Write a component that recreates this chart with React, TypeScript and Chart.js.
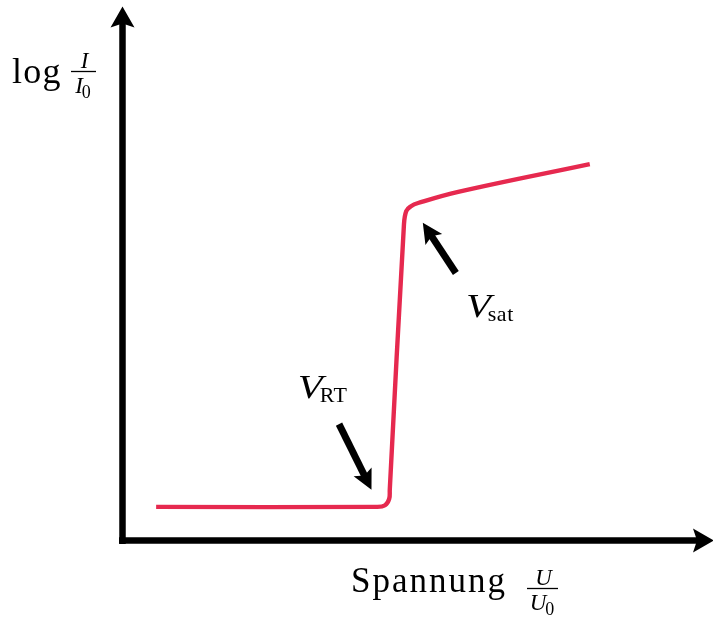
import React, { useEffect, useRef } from "react";
import { Chart, registerables } from "chart.js";

Chart.register(...registerables);

// Characteristic: voltage U/U0 against log current log(I/I0)
const voltage = [0.57, 4.31, 4.45, 4.52, 4.53, 4.77, 4.81, 4.89, 5.01, 5.69, 7.92];
const logCurrent = [0.63, 0.63, 0.66, 0.78, 0.95, 5.91, 6.17, 6.26, 6.32, 6.53, 7.05];

// Axis extents
const xMax = 10;
const yMax = 10;

// Annotated points: arrow tail -> tip and label anchor, in data units
const markerMain = ["V", "V"];
const markerSub = ["RT", "sat"];
const arrowTailX = [3.67, 5.65];
const arrowTailY = [2.18, 5.01];
const arrowTipX = [4.22, 5.09];
const arrowTipY = [0.95, 5.95];
const labelX = [2.97, 5.82];
const labelY = [2.67, 4.19];

const SERIF = '"Liberation Serif", "DejaVu Serif", serif';
const LINE_RED = "#e6294f";

function drawArrow(
  ctx: CanvasRenderingContext2D,
  x0: number,
  y0: number,
  x1: number,
  y1: number,
  width: number,
  headLen: number,
  headHalf: number,
  notch: number
) {
  const dx = x1 - x0;
  const dy = y1 - y0;
  const L = Math.hypot(dx, dy);
  const ux = dx / L;
  const uy = dy / L;
  const nx = -uy;
  const ny = ux;
  const bx = x1 - ux * headLen;
  const by = y1 - uy * headLen;
  const mx = bx + ux * notch;
  const my = by + uy * notch;
  ctx.lineWidth = width;
  ctx.lineCap = "butt";
  ctx.beginPath();
  ctx.moveTo(x0, y0);
  ctx.lineTo(mx + ux * 1, my + uy * 1);
  ctx.stroke();
  ctx.beginPath();
  ctx.moveTo(x1, y1);
  ctx.lineTo(bx + nx * headHalf, by + ny * headHalf);
  ctx.lineTo(mx, my);
  ctx.lineTo(bx - nx * headHalf, by - ny * headHalf);
  ctx.closePath();
  ctx.fill();
}

function setFont(ctx: CanvasRenderingContext2D, size: number, italic = false, spacing = 0) {
  ctx.font = `${italic ? "italic " : ""}${size}px ${SERIF}`;
  (ctx as any).letterSpacing = `${spacing}px`;
}

// Italic capital drawn slightly widened, returns its advance
function drawWideItalic(ctx: CanvasRenderingContext2D, text: string, x: number, y: number, size: number, stretch: number) {
  setFont(ctx, size, true);
  ctx.save();
  ctx.translate(x, y);
  ctx.scale(stretch, 1);
  ctx.fillText(text, 0, 0);
  ctx.restore();
  return ctx.measureText(text).width * stretch;
}

// Inline fraction "num / den_sub" with its bar centred on cx
function drawFraction(
  ctx: CanvasRenderingContext2D,
  cx: number,
  barY: number,
  barW: number,
  letter: string,
  size: number,
  subSize: number
) {
  ctx.lineWidth = 1.3;
  ctx.beginPath();
  ctx.moveTo(cx - barW / 2, barY);
  ctx.lineTo(cx + barW / 2, barY);
  ctx.stroke();
  ctx.textAlign = "center";
  ctx.textBaseline = "alphabetic";
  setFont(ctx, size, true);
  ctx.fillText(letter, cx + 1, barY - 3.5);
  ctx.textAlign = "left";
  const lw = ctx.measureText(letter).width;
  setFont(ctx, subSize);
  const sw = ctx.measureText("0").width;
  const left = cx - (lw + sw) / 2;
  setFont(ctx, size, true);
  ctx.fillText(letter, left, barY + size * 0.95);
  setFont(ctx, subSize);
  ctx.fillText("0", left + lw - 1, barY + size * 0.95 + 5);
}

const decorations = {
  id: "decorations",
  beforeDatasetsDraw(chart: Chart) {
    const ctx = chart.ctx;
    const a = chart.chartArea;
    ctx.save();
    ctx.fillStyle = "#000";
    ctx.strokeStyle = "#000";
    // axes with arrow heads
    drawArrow(ctx, a.left, a.bottom + 3.5, a.left, a.top, 6.5, 21, 12, 4);
    drawArrow(ctx, a.left - 3.5, a.bottom, a.right + 1.5, a.bottom, 6.5, 21, 12, 4);
    ctx.restore();
  },
  afterDatasetsDraw(chart: Chart) {
    const ctx = chart.ctx;
    const a = chart.chartArea;
    const xs = chart.scales.x;
    const ys = chart.scales.y;
    ctx.save();
    ctx.fillStyle = "#000";
    ctx.strokeStyle = "#000";

    // annotation arrows and their labels
    for (let i = 0; i < markerMain.length; i++) {
      drawArrow(
        ctx,
        xs.getPixelForValue(arrowTailX[i]),
        ys.getPixelForValue(arrowTailY[i]),
        xs.getPixelForValue(arrowTipX[i]),
        ys.getPixelForValue(arrowTipY[i]),
        7,
        20,
        10,
        4
      );
      const lx = xs.getPixelForValue(labelX[i]);
      const ly = ys.getPixelForValue(labelY[i]);
      ctx.textAlign = "left";
      ctx.textBaseline = "alphabetic";
      const w = drawWideItalic(ctx, markerMain[i], lx, ly, 34, 1.2);
      setFont(ctx, 22, false, 0.5);
      ctx.fillText(markerSub[i], lx + w - 3, ly + 4);
    }

    // y-axis title: log I/I0
    ctx.textAlign = "left";
    ctx.textBaseline = "alphabetic";
    setFont(ctx, 36, false, 1.2);
    ctx.fillText("log", 12, 83);
    drawFraction(ctx, a.left - 39, 71.5, 25, "I", 23, 18);

    // x-axis title: Spannung U/U0
    setFont(ctx, 35, false, 2);
    ctx.fillText("Spannung", 351, 592);
    drawFraction(ctx, 542.5, 588.5, 31, "U", 23, 18);
    ctx.restore();
  },
};

export default function App() {
  const canvasRef = useRef<HTMLCanvasElement | null>(null);

  useEffect(() => {
    if (!canvasRef.current) return;
    const chart = new Chart(canvasRef.current, {
      type: "scatter",
      data: {
        datasets: [
          {
            data: voltage.map((v, i) => ({ x: v, y: logCurrent[i] })),
            showLine: true,
            borderColor: LINE_RED,
            backgroundColor: LINE_RED,
            borderWidth: 4.4,
            borderJoinStyle: "round",
            borderCapStyle: "butt",
            pointRadius: 0,
            pointHoverRadius: 0,
            tension: 0.4,
          },
        ],
      },
      options: {
        animation: false,
        responsive: true,
        maintainAspectRatio: false,
        events: [],
        layout: { padding: { left: 122.5, right: 0.5, top: 6.5, bottom: 77.5 } },
        plugins: { legend: { display: false }, tooltip: { enabled: false } },
        scales: {
          x: { type: "linear", min: 0, max: xMax, display: false },
          y: { type: "linear", min: 0, max: yMax, display: false },
        },
      },
      plugins: [decorations],
    });
    return () => chart.destroy();
  }, []);

  return (
    <div style={{ position: "absolute", left: 0, top: 0, width: 713, height: 618, background: "#fff" }}>
      <canvas ref={canvasRef} />
    </div>
  );
}
